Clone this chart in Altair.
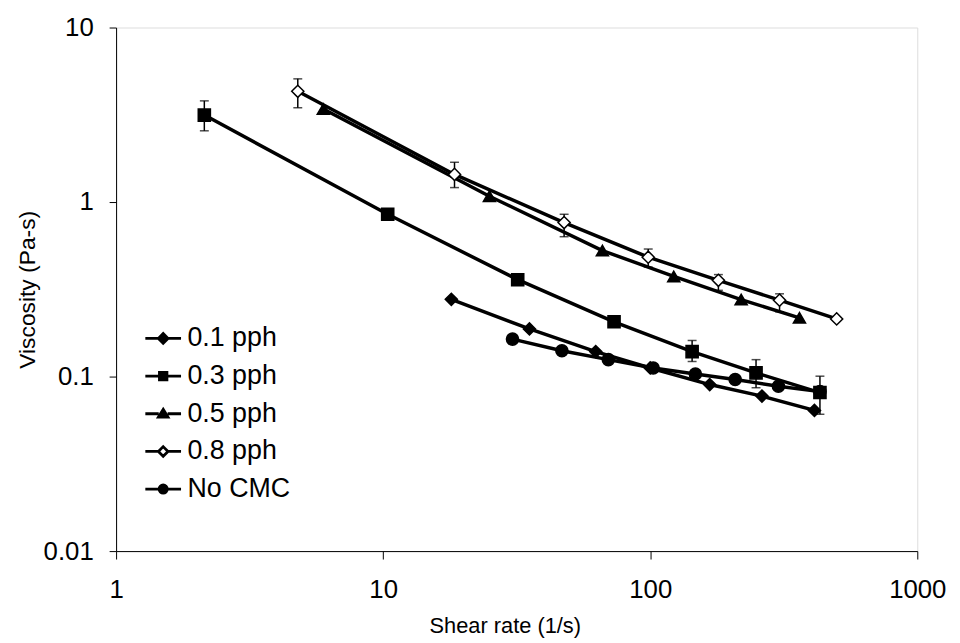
import altair as alt
import pandas as pd

# ---- data ----
series_names = ["0.1 pph", "0.3 pph", "0.5 pph", "0.8 pph", "No CMC"]

x_01 = [18.0, 35.3, 62.5, 100.0, 167.0, 262.0, 412.0]
y_01 = [0.277, 0.1875, 0.139, 0.112, 0.090, 0.0773, 0.064]

x_03 = [2.14, 10.4, 31.9, 73.2, 143.5, 249.0, 432.0]
y_03 = [3.15, 0.851, 0.359, 0.206, 0.139, 0.105, 0.081]

x_05 = [5.97, 25.0, 66.2, 122.5, 219.0, 362.0]
y_05 = [3.41, 1.08, 0.527, 0.375, 0.276, 0.217]

x_08 = [4.79, 18.5, 47.6, 98.3, 180.0, 305.0, 499.0]
y_08 = [4.31, 1.44, 0.763, 0.483, 0.356, 0.274, 0.214]

x_no = [30.5, 46.7, 69.7, 102.6, 147.6, 208.0, 302.0, 432.0]
y_no = [0.164, 0.1406, 0.125, 0.112, 0.1035, 0.0962, 0.088, 0.082]

# error bars (series, x, low, high)
err_series = ["0.3 pph", "0.3 pph", "0.3 pph", "0.3 pph",
              "0.8 pph", "0.8 pph", "0.8 pph", "0.8 pph", "0.8 pph", "0.8 pph"]
err_x = [2.14, 143.5, 249.0, 432.0,
         4.79, 18.5, 47.6, 98.3, 180.0, 305.0]
err_lo = [2.56, 0.122, 0.0863, 0.0608,
          3.47, 1.21, 0.633, 0.424, 0.312, 0.235]
err_hi = [3.80, 0.161, 0.125, 0.1005,
          5.08, 1.69, 0.851, 0.538, 0.384, 0.298]

x_ticks = [1, 10, 100, 1000]
y_ticks = [0.01, 0.1, 1, 10]

# ---- tables ----
rows = []
for name, xs, ys in zip(series_names,
                        [x_01, x_03, x_05, x_08, x_no],
                        [y_01, y_03, y_05, y_08, y_no]):
    for i, (a, b) in enumerate(zip(xs, ys)):
        rows.append({"series": name, "x": a, "y": b, "i": i})
df = pd.DataFrame(rows)
err = pd.DataFrame({"series": err_series, "x": err_x, "lo": err_lo, "hi": err_hi})

FONT = "Liberation Sans"

xscale = alt.Scale(type="log", domain=[1, 1000], nice=False)
yscale = alt.Scale(type="log", domain=[0.01, 10], nice=False)

xaxis = alt.Axis(values=x_ticks, format="~g", grid=False, tickSize=8,
                 labelPadding=18, labelFontSize=26, labelFont=FONT,
                 labelColor="black", tickColor="black", domainColor="black",
                 title="Shear rate (1/s)", titleFontSize=22, titleFont=FONT,
                 titleFontWeight="normal", titleColor="black", titlePadding=13,
                 titleX=392, titleAlign="center", labelFlush=False)
yaxis = alt.Axis(values=y_ticks, format="~g", grid=False, tickSize=7,
                 labelPadding=16, labelFontSize=26, labelFont=FONT,
                 labelColor="black", tickColor="black", domainColor="black",
                 title="Viscosity (Pa-s)", titleFontSize=23, titleFont=FONT,
                 titleFontWeight="normal", titleColor="black", titlePadding=4,
                 labelFlush=False)

X = alt.X("x:Q", scale=xscale, axis=xaxis)
Y = alt.Y("y:Q", scale=yscale, axis=yaxis)

lines = alt.Chart(df).mark_line(color="black", strokeWidth=3.5).encode(
    x=X, y=Y, detail="series:N", order="i:Q"
)

marker_shapes = ["diamond", "square", "triangle-up", "diamond", "circle"]
marker_fills = ["black", "black", "black", "white", "black"]
marker_strokes = ["black", "black", "black", "black", "black"]

points = alt.Chart(df).mark_point(filled=True, size=150, stroke="black",
                                  strokeWidth=1.5, opacity=1).encode(
    x=X, y=Y,
    shape=alt.Shape("series:N", scale=alt.Scale(domain=series_names, range=marker_shapes), legend=None),
    fill=alt.Fill("series:N", scale=alt.Scale(domain=series_names, range=marker_fills), legend=None),
)

rules = alt.Chart(err).mark_rule(color="black", strokeWidth=1.5).encode(
    x=alt.X("x:Q", scale=xscale), y=alt.Y("lo:Q", scale=yscale), y2="hi:Q"
)
cap_lo = alt.Chart(err).mark_tick(color="black", orient="horizontal", size=9, thickness=1.5).encode(
    x=alt.X("x:Q", scale=xscale), y=alt.Y("lo:Q", scale=yscale)
)
cap_hi = alt.Chart(err).mark_tick(color="black", orient="horizontal", size=9, thickness=1.5).encode(
    x=alt.X("x:Q", scale=xscale), y=alt.Y("hi:Q", scale=yscale)
)

# legend symbols: line segment with the marker in the middle
legend_paths = [
    "M-1,0H-0.27M0.27,0H1M0,-0.27L0.27,0L0,0.27L-0.27,0Z",
    "M-1,0H-0.21M0.21,0H1M-0.21,-0.21H0.21V0.21H-0.21Z",
    "M-1,0H-0.25M0.25,0H1M0,-0.25L0.27,0.19L-0.27,0.19Z",
    "M-1,0H-0.27M0.27,0H1M0,-0.27L0.27,0L0,0.27L-0.27,0Z",
    "M-1,0H-0.23M0.23,0H1M-0.23,0A0.23,0.23 0 1,0 0.23,0A0.23,0.23 0 1,0 -0.23,0Z",
]
leg = alt.Legend(title=None, orient="none", legendX=28, legendY=294,
                 labelFontSize=27, labelFont=FONT, labelColor="black",
                 symbolSize=1296, symbolStrokeColor="black", symbolStrokeWidth=2.8,
                 labelOffset=5, rowPadding=5, padding=0)
legend_layer = alt.Chart(df).transform_filter("false").mark_point(
    filled=True, size=1296, stroke="black", strokeWidth=2.8, opacity=1).encode(
    x=X, y=Y,
    shape=alt.Shape("series:N", scale=alt.Scale(domain=series_names, range=legend_paths), legend=leg),
    fill=alt.Fill("series:N", scale=alt.Scale(domain=series_names, range=marker_fills), legend=leg),
    stroke=alt.Stroke("series:N", scale=alt.Scale(domain=series_names, range=marker_strokes), legend=leg),
)

chart = alt.layer(lines, rules, cap_lo, cap_hi, points, legend_layer).resolve_scale(
    shape="independent", fill="independent", stroke="independent"
).properties(
    width=808, height=528,
    autosize=alt.AutoSizeParams(type="none"),
    padding={"left": 109, "top": 17, "right": 35, "bottom": 90},
).configure_view(stroke="#333333", strokeWidth=1).configure(background="white")

chart.save("out.html", embed_options={"renderer": "svg", "actions": False})
